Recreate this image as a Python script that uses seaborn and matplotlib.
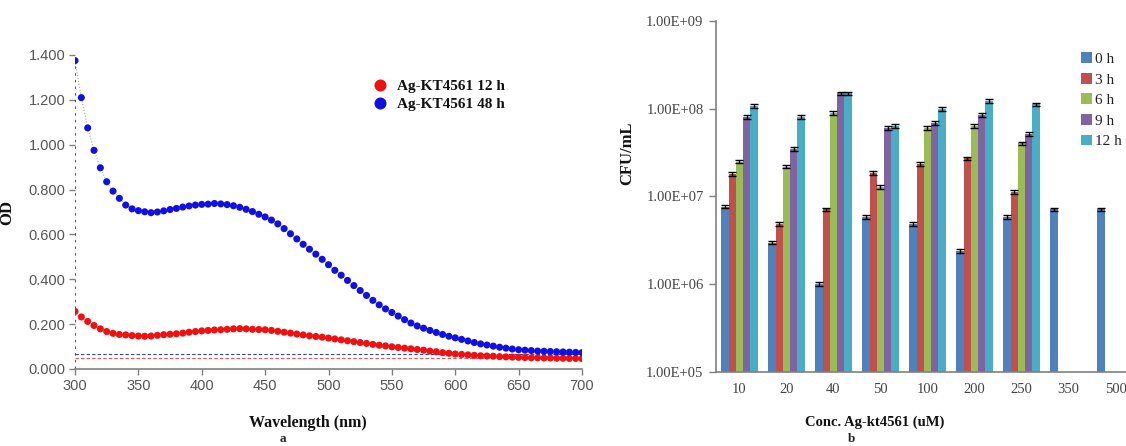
import numpy as np
import pandas as pd
import matplotlib
matplotlib.use("Agg")
import matplotlib.pyplot as plt
import seaborn as sns

# ---------------- data: panel a ----------------
wavelength = list(range(300, 701, 5))
od_48h = [1.375, 1.210, 1.075, 0.975, 0.897, 0.835, 0.793, 0.761, 0.731, 0.714,
          0.706, 0.701, 0.697, 0.700, 0.705, 0.711, 0.716, 0.722, 0.727, 0.731,
          0.734, 0.735, 0.738, 0.736, 0.733, 0.728, 0.721, 0.712, 0.702, 0.690,
          0.678, 0.664, 0.647, 0.626, 0.603, 0.580, 0.556, 0.534, 0.512, 0.489,
          0.465, 0.440, 0.418, 0.395, 0.372, 0.350, 0.328, 0.306, 0.286, 0.268,
          0.252, 0.236, 0.220, 0.205, 0.192, 0.182, 0.172, 0.163, 0.154, 0.146,
          0.139, 0.132, 0.125, 0.118, 0.112, 0.107, 0.102, 0.097, 0.093, 0.089,
          0.086, 0.084, 0.082, 0.080, 0.079, 0.078, 0.077, 0.076, 0.075, 0.074,
          0.073]
od_12h = [0.257, 0.232, 0.212, 0.194, 0.179, 0.167, 0.159, 0.154, 0.152, 0.149,
          0.147, 0.146, 0.147, 0.150, 0.153, 0.155, 0.157, 0.160, 0.164, 0.167,
          0.170, 0.172, 0.174, 0.175, 0.177, 0.179, 0.180, 0.179, 0.177, 0.176,
          0.175, 0.172, 0.168, 0.164, 0.160, 0.156, 0.152, 0.148, 0.145, 0.142,
          0.138, 0.134, 0.130, 0.126, 0.122, 0.118, 0.114, 0.110, 0.106, 0.103,
          0.099, 0.096, 0.093, 0.090, 0.087, 0.084, 0.080, 0.077, 0.073, 0.070,
          0.067, 0.065, 0.063, 0.061, 0.059, 0.058, 0.057, 0.055, 0.054, 0.053,
          0.052, 0.051, 0.050, 0.050, 0.049, 0.049, 0.048, 0.048, 0.047, 0.047,
          0.046]
baseline_48h = 0.068
baseline_12h = 0.050
series_names = ["Ag-KT4561 12 h", "Ag-KT4561 48 h"]

# ---------------- data: panel b ----------------
concentrations = ["10", "20", "40", "50", "100", "200", "250", "350", "500"]
time_labels = ["0 h", "3 h", "6 h", "9 h", "12 h"]
cfu_0h = [7.65e6, 2.98e6, 1.00e6, 5.80e6, 4.86e6, 2.41e6, 5.89e6, 7.15e6, 7.15e6]
cfu_3h = [1.80e7, 4.86e6, 7.15e6, 1.87e7, 2.34e7, 2.72e7, 1.12e7, np.nan, np.nan]
cfu_6h = [2.50e7, 2.19e7, 9.00e7, 1.29e7, 6.08e7, 6.36e7, 4.04e7, np.nan, np.nan]
cfu_9h = [8.00e7, 3.48e7, 1.50e8, 6.08e7, 6.90e7, 8.50e7, 5.15e7, np.nan, np.nan]
cfu_12h = [1.08e8, 8.10e7, 1.50e8, 6.40e7, 9.90e7, 1.22e8, 1.12e8, np.nan, np.nan]
err_0h = [3.5e5, 1.4e5, 5.0e4, 2.8e5, 2.3e5, 1.2e5, 2.8e5, 3.4e5, 3.4e5]
err_3h = [8.5e5, 2.3e5, 3.4e5, 9.0e5, 1.1e6, 1.3e6, 5.3e5, np.nan, np.nan]
err_6h = [1.2e6, 1.0e6, 4.3e6, 6.1e5, 2.9e6, 3.0e6, 1.9e6, np.nan, np.nan]
err_9h = [3.8e6, 1.7e6, 7.0e6, 2.9e6, 3.3e6, 4.0e6, 2.4e6, np.nan, np.nan]
err_12h = [5.1e6, 3.9e6, 7.0e6, 3.0e6, 4.7e6, 5.8e6, 5.3e6, np.nan, np.nan]
bar_colors = ["#4F81BD", "#C0504D", "#9BBB59", "#8064A2", "#4BACC6"]

# ---------------- style ----------------
sns.set_theme(style="white")
plt.rcParams["font.family"] = ["Liberation Serif", "DejaVu Serif"]
SANS = ["Liberation Sans", "DejaVu Sans"]
SERIF = ["Liberation Serif", "DejaVu Serif"]

W, H = 1126, 446
fig = plt.figure(figsize=(W / 100, H / 100), dpi=100)

def axrect(x0, y0, x1, y1):
    return [x0 / W, 1 - y1 / H, (x1 - x0) / W, (y1 - y0) / H]

# ================= panel a =================
ax1 = fig.add_axes(axrect(75, 55, 582, 369))
df_a = pd.DataFrame({
    "Wavelength": wavelength * 2,
    "OD": od_12h + od_48h,
    "Series": [series_names[0]] * len(wavelength) + [series_names[1]] * len(wavelength),
})
pal_a = {series_names[0]: "#EE1111", series_names[1]: "#1010E0"}
sns.lineplot(data=df_a, x="Wavelength", y="OD", hue="Series", palette={k: "#AAAAAA" for k in pal_a},
             ax=ax1, linestyle=":", linewidth=0.8, legend=False, sort=False)
sns.scatterplot(data=df_a, x="Wavelength", y="OD", hue="Series", palette=pal_a,
                ax=ax1, s=26, linewidth=0, zorder=3)
ax1.plot([wavelength[0], wavelength[0]], [0, od_48h[0]], color="#2222CC", linestyle=(0, (1.5, 2.5)),
         linewidth=1.2, zorder=2)
ax1.plot([wavelength[0], wavelength[-1]], [baseline_48h, baseline_48h], color="#3344AA",
         linestyle=(0, (3, 2)), linewidth=0.8)
ax1.plot([wavelength[0], wavelength[-1]], [baseline_12h, baseline_12h], color="#DD5555",
         linestyle=(0, (3, 2)), linewidth=0.8)
ax1.set_xlim(300, 700)
ax1.set_ylim(0, 1.4)
ax1.set_xticks(range(300, 701, 50))
ax1.set_yticks(np.arange(0, 1.41, 0.2))
ax1.set_yticklabels([f"{v:.3f}" for v in np.arange(0, 1.41, 0.2)])
for lab in ax1.get_xticklabels() + ax1.get_yticklabels():
    lab.set_fontfamily(SANS)
    lab.set_fontsize(10.5)
    lab.set_color("#555555")
ax1.tick_params(axis="both", which="major", length=4, width=1, color="#808080",
                direction="out", left=True, bottom=True, pad=3)
for s in ["top", "right", "left"]:
    ax1.spines[s].set_visible(False)
ax1.spines["bottom"].set_color("#808080")
ax1.spines["bottom"].set_linewidth(1.2)
ax1.set_xlabel("Wavelength (nm)", fontfamily=SERIF, fontweight="bold", fontsize=11.5, color="#111111")
ax1.set_ylabel("OD", fontfamily=SERIF, fontweight="bold", fontsize=12, color="#111111")
ax1.xaxis.set_label_coords(0.46, -0.145)
ax1.yaxis.set_label_coords(-0.118, 0.5)
leg1 = ax1.legend(loc="upper left", bbox_to_anchor=(0.545, 0.965), frameon=False,
                  prop={"family": SERIF, "weight": "bold", "size": 11},
                  handletextpad=0.1, labelspacing=0.25, markerscale=1.7)
for t in leg1.get_texts():
    t.set_color("#111111")

# ================= panel b =================
ax2 = fig.add_axes(axrect(716, 21, 1139, 372))
rows = []
vals = [cfu_0h, cfu_3h, cfu_6h, cfu_9h, cfu_12h]
errs = [err_0h, err_3h, err_6h, err_9h, err_12h]
for t, v, e in zip(time_labels, vals, errs):
    for c, vv, ee in zip(concentrations, v, e):
        if not np.isnan(vv):
            rows.append({"Conc": c, "CFU": vv, "err": ee, "Time": t})
df_b = pd.DataFrame(rows)
sns.barplot(data=df_b, x="Conc", y="CFU", hue="Time", order=concentrations,
            hue_order=time_labels, palette=bar_colors, errorbar=None, width=0.77,
            ax=ax2, saturation=1, linewidth=0)
ax2.set_yscale("log")
err_lookup = {row.CFU: row.err for row in df_b.itertuples()}
for p in ax2.patches:
    h = p.get_height()
    if h in err_lookup:
        ax2.errorbar(p.get_x() + p.get_width() / 2, h, yerr=err_lookup[h], color="black",
                     capsize=3, elinewidth=1, capthick=1, fmt="none", zorder=4)
ax2.set_ylim(1e5, 1e9)
ax2.set_xlim(-0.5, len(concentrations) - 0.5)
ax2.set_yticks([1e5, 1e6, 1e7, 1e8, 1e9])
ax2.set_yticklabels(["1.00E+05", "1.00E+06", "1.00E+07", "1.00E+08", "1.00E+09"])
ax2.yaxis.set_minor_locator(matplotlib.ticker.NullLocator())
for lab in ax2.get_xticklabels() + ax2.get_yticklabels():
    lab.set_fontfamily(SERIF)
    lab.set_fontsize(10.5)
    lab.set_color("#444444")
ax2.tick_params(axis="y", which="major", length=5, width=1, color="#808080", direction="out",
                left=True, pad=4)
ax2.tick_params(axis="x", length=0, pad=8)
for s in ["top", "right"]:
    ax2.spines[s].set_visible(False)
for s in ["left", "bottom"]:
    ax2.spines[s].set_color("#808080")
    ax2.spines[s].set_linewidth(1.2)
ax2.set_xlabel("Conc. Ag-kt4561 (uM)", fontfamily=SERIF, fontweight="bold", fontsize=10.5,
               color="#111111")
ax2.set_ylabel("CFU/mL", fontfamily=SERIF, fontweight="bold", fontsize=12, color="#111111")
ax2.xaxis.set_label_coords(0.376, -0.125)
ax2.yaxis.set_label_coords(-0.19, 0.624)
leg2 = ax2.legend(loc="upper left", bbox_to_anchor=(0.83, 0.95), frameon=False,
                  prop={"family": SERIF, "size": 11}, handlelength=0.7, handleheight=0.7,
                  handletextpad=0.25, labelspacing=0.45)
for t in leg2.get_texts():
    t.set_color("#222222")

fig.text(283 / W, 1.0 / H, "a", fontfamily=SERIF, fontweight="bold", fontsize=9.5,
         ha="center", va="bottom")
fig.text(852 / W, 1.0 / H, "b", fontfamily=SERIF, fontweight="bold", fontsize=9.5,
         ha="center", va="bottom")

fig.savefig("out.png", dpi=100)
